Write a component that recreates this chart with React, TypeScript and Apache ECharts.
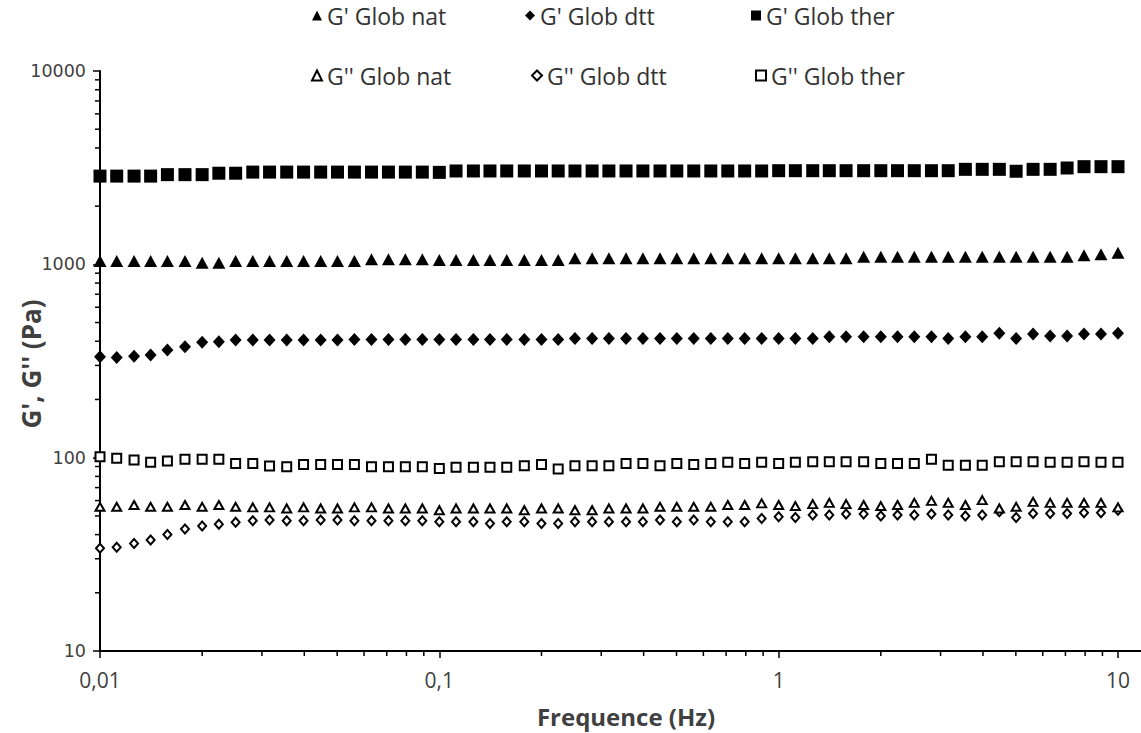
import React, { useEffect, useRef } from "react";
import * as echarts from "echarts";

const freq = [
  0.01, 0.0112, 0.0126, 0.0141, 0.0158, 0.0178, 0.02, 0.0224, 0.0251, 0.0282,
  0.0316, 0.0355, 0.0398, 0.0447, 0.0501, 0.0562, 0.0631, 0.0708, 0.0794, 0.0891,
  0.1, 0.112, 0.126, 0.141, 0.158, 0.178, 0.2, 0.224, 0.251, 0.282,
  0.316, 0.355, 0.398, 0.447, 0.501, 0.562, 0.631, 0.708, 0.794, 0.891,
  1, 1.12, 1.26, 1.41, 1.58, 1.78, 2, 2.24, 2.51, 2.82,
  3.16, 3.55, 3.98, 4.47, 5.01, 5.62, 6.31, 7.08, 7.94, 8.91, 10,
];

const gpNat = [
  1040, 1040, 1040, 1040, 1040, 1040, 1019, 1019, 1040, 1040,
  1040, 1040, 1040, 1040, 1040, 1040, 1061, 1061, 1061, 1061,
  1052, 1052, 1052, 1052, 1052, 1052, 1052, 1052, 1074, 1074,
  1074, 1074, 1074, 1074, 1074, 1074, 1074, 1074, 1074, 1074,
  1074, 1074, 1074, 1074, 1074, 1095, 1095, 1095, 1095, 1095,
  1095, 1095, 1095, 1095, 1095, 1095, 1095, 1095, 1113, 1127, 1148,
];

const gpDtt = [
  333, 330, 335, 340, 360, 375, 395, 398, 406, 406,
  406, 406, 406, 406, 406, 409, 409, 409, 409, 409,
  409, 409, 409, 409, 409, 409, 409, 409, 414, 414,
  414, 414, 414, 414, 414, 414, 414, 414, 414, 414,
  414, 414, 414, 422, 422, 422, 422, 422, 422, 422,
  414, 422, 422, 440, 414, 436, 426, 426, 436, 436, 440,
];

const gpTher = [
  2860, 2860, 2860, 2860, 2910, 2910, 2910, 2960, 2960, 3000,
  3000, 3000, 3000, 3000, 3000, 3000, 3000, 3000, 3000, 3000,
  2990, 3040, 3040, 3040, 3040, 3040, 3040, 3040, 3040, 3040,
  3040, 3040, 3040, 3040, 3040, 3040, 3040, 3040, 3040, 3040,
  3050, 3050, 3050, 3050, 3050, 3050, 3050, 3050, 3050, 3050,
  3050, 3100, 3100, 3100, 3030, 3100, 3100, 3150, 3200, 3200, 3200,
];

const gppNat = [
  55.7, 55.7, 56.9, 55.7, 55.7, 56.9, 55.7, 56.9, 55.7, 55.3,
  55.3, 54.6, 55.3, 54.6, 54.6, 55.3, 55.3, 54.6, 54.6, 54.6,
  53.5, 54.6, 54.6, 54.6, 54.6, 53.5, 54.6, 54.6, 53.5, 53.5,
  54.6, 54.6, 54.6, 55.7, 55.7, 55.7, 55.7, 56.9, 56.9, 58.0,
  56.9, 56.2, 57.5, 58.4, 57.5, 56.9, 56.2, 56.9, 58.4, 59.8,
  58.4, 56.9, 60.3, 54.6, 55.7, 59.1, 58.4, 58.4, 58.4, 58.4, 55.3,
];

const gppDtt = [
  34.0, 34.4, 36.0, 37.5, 40.1, 42.7, 44.3, 45.3, 46.3, 47.2,
  47.6, 47.2, 47.2, 47.6, 47.6, 47.2, 47.2, 47.2, 47.2, 47.2,
  46.6, 46.6, 46.6, 45.7, 46.6, 46.6, 45.7, 45.7, 46.6, 46.6,
  46.6, 46.6, 46.6, 47.6, 46.6, 47.6, 46.6, 46.6, 46.6, 48.5,
  49.5, 49.1, 50.5, 50.5, 51.1, 51.1, 49.9, 50.5, 50.5, 51.1,
  50.5, 49.9, 50.5, 52.5, 49.1, 51.4, 51.4, 51.4, 51.9, 51.9, 53.5,
];

const gppTher = [
  101.1, 99.2, 97.2, 94.6, 96.0, 98.0, 98.0, 98.0, 93.4, 93.4,
  90.5, 89.7, 92.3, 92.3, 92.3, 92.3, 89.7, 89.7, 89.7, 89.7,
  88.0, 89.1, 89.1, 89.1, 89.1, 90.8, 92.3, 87.3, 90.8, 90.8,
  90.8, 93.4, 93.4, 90.8, 93.4, 92.3, 93.4, 94.6, 93.4, 94.6,
  93.4, 94.6, 95.2, 95.2, 95.2, 95.2, 93.4, 93.4, 93.4, 98.0,
  91.5, 91.5, 91.5, 95.2, 95.2, 95.2, 94.6, 94.6, 95.2, 94.6, 94.6,
];

const seriesNames = [
  "G' Glob nat",
  "G' Glob dtt",
  "G' Glob ther",
  "G'' Glob nat",
  "G'' Glob dtt",
  "G'' Glob ther",
];

const xTickLabels = ["0,01", "0,1", "1", "10"];
const yTickValues = [10, 100, 1000, 10000];
const yTickLabels = ["10", "100", "1000", "10000"];
const xMinorTicks = [
  0.02, 0.03, 0.04, 0.05, 0.06, 0.07, 0.08, 0.09,
  0.2, 0.3, 0.4, 0.5, 0.6, 0.7, 0.8, 0.9,
  2, 3, 4, 5, 6, 7, 8, 9,
];
const yMinorTicks = [
  20, 30, 40, 50, 60, 70, 80, 90,
  200, 300, 400, 500, 600, 700, 800, 900,
  2000, 3000, 4000, 5000, 6000, 7000, 8000, 9000,
];
const xTitle = "Frequence (Hz)";
const yTitle = "G', G'' (Pa)";

const pairs = (ys: number[]) => freq.map((f, i) => [f, ys[i]]);

export default function App() {
  const ref = useRef<HTMLDivElement>(null);
  useEffect(() => {
    if (!ref.current) return;
    const chart = echarts.init(ref.current, null, { renderer: "svg" });
    const filled = { color: "#000000", opacity: 1 };
    const open = { color: "#ffffff", borderColor: "#000000", borderWidth: 2, opacity: 1 };
    const legendText = { fontFamily: "Open Sans", fontSize: 23, color: "#333333" };
    const legendPos = [
      [312, 4], [525, 4], [751, 4],
      [311, 64], [531, 64], [755, 64],
    ];
    const tickLine = (horizontal: boolean) => (params: any, api: any) => {
      const p = api.coord([api.value(0), api.value(1)]);
      return {
        type: "line",
        shape: horizontal
          ? { x1: p[0] - 5, y1: p[1], x2: p[0], y2: p[1] }
          : { x1: p[0], y1: p[1], x2: p[0], y2: p[1] + 5 },
        style: { stroke: "#000000", lineWidth: 1.5 },
      };
    };
    const yLabel = (params: any, api: any) => {
      const p = api.coord([api.value(0), api.value(1)]);
      return {
        type: "text",
        x: p[0] - 14,
        y: p[1],
        style: {
          text: yTickLabels[params.dataIndex],
          fontFamily: "DejaVu Sans",
          fontSize: 17.5,
          fill: "#404040",
          align: "right",
          verticalAlign: "middle",
        },
      };
    };
    chart.setOption({
      animation: false,
      backgroundColor: "#ffffff",
      grid: { left: 100, right: 23, top: 71, bottom: 82, containLabel: false },
      legend: legendPos.map((p, i) => ({
        data: [seriesNames[i]],
        left: p[0],
        top: p[1],
        padding: 0,
        itemWidth: 10,
        itemHeight: 10,
        textStyle: legendText,
        selectedMode: false,
      })),
      xAxis: {
        type: "log",
        logBase: 10,
        min: 0.01,
        max: 10,
        axisLine: { lineStyle: { color: "#000000", width: 2 } },
        axisTick: { show: true, length: 7, lineStyle: { color: "#000000", width: 1.5 } },
        splitLine: { show: false },
        axisLabel: {
          margin: 18,
          fontFamily: "Open Sans",
          fontSize: 21,
          color: "#404040",
          formatter: (v: number) => xTickLabels[Math.round(Math.log10(v)) + 2],
        },
      },
      yAxis: {
        type: "log",
        logBase: 10,
        min: 10,
        max: 10000,
        axisLine: { show: true, lineStyle: { color: "#000000", width: 2 } },
        axisTick: { show: true, length: 7, lineStyle: { color: "#000000", width: 1.5 } },
        splitLine: { show: false },
        axisLabel: { show: false },
      },
      graphic: [
        {
          type: "text",
          x: 626,
          y: 716,
          style: {
            text: xTitle,
            fontFamily: "Open Sans",
            fontWeight: "bold",
            fontSize: 24,
            fill: "#404040",
            align: "center",
            verticalAlign: "middle",
          },
        },
        {
          type: "text",
          x: 31,
          y: 364,
          rotation: Math.PI / 2,
          style: {
            text: yTitle,
            fontFamily: "Open Sans",
            fontWeight: "bold",
            fontSize: 26,
            fill: "#404040",
            align: "center",
            verticalAlign: "middle",
          },
        },
        {
          type: "line",
          shape: { x1: 1118, y1: 651, x2: 1141, y2: 651 },
          style: { stroke: "#000000", lineWidth: 2 },
        },
      ],
      series: [
        {
          type: "custom",
          silent: true,
          clip: false,
          data: xMinorTicks.map((v) => [v, 10]),
          renderItem: tickLine(false),
          z: 1,
        },
        {
          type: "custom",
          silent: true,
          clip: false,
          data: yMinorTicks.map((v) => [0.01, v]),
          renderItem: tickLine(true),
          z: 1,
        },
        {
          type: "custom",
          silent: true,
          clip: false,
          data: yTickValues.map((v) => [0.01, v]),
          renderItem: yLabel,
          z: 1,
        },
        {
          name: seriesNames[5], type: "scatter", data: pairs(gppTher),
          symbol: "rect", symbolSize: 9, itemStyle: open, z: 3,
        },
        {
          name: seriesNames[4], type: "scatter", data: pairs(gppDtt),
          symbol: "diamond", symbolSize: [8, 9], itemStyle: open, z: 3,
        },
        {
          name: seriesNames[3], type: "scatter", data: pairs(gppNat),
          symbol: "triangle", symbolSize: [9, 8], itemStyle: open, z: 3,
        },
        {
          name: seriesNames[0], type: "scatter", data: pairs(gpNat),
          symbol: "triangle", symbolSize: [13, 12], itemStyle: filled, z: 3,
        },
        {
          name: seriesNames[1], type: "scatter", data: pairs(gpDtt),
          symbol: "diamond", symbolSize: [12, 13], itemStyle: filled, z: 3,
        },
        {
          name: seriesNames[2], type: "scatter", data: pairs(gpTher),
          symbol: "rect", symbolSize: 13, itemStyle: filled, z: 3,
        },
      ],
    });
    return () => chart.dispose();
  }, []);
  return (
    <div
      ref={ref}
      style={{ position: "fixed", left: 0, top: 0, width: 1141, height: 733 }}
    />
  );
}
